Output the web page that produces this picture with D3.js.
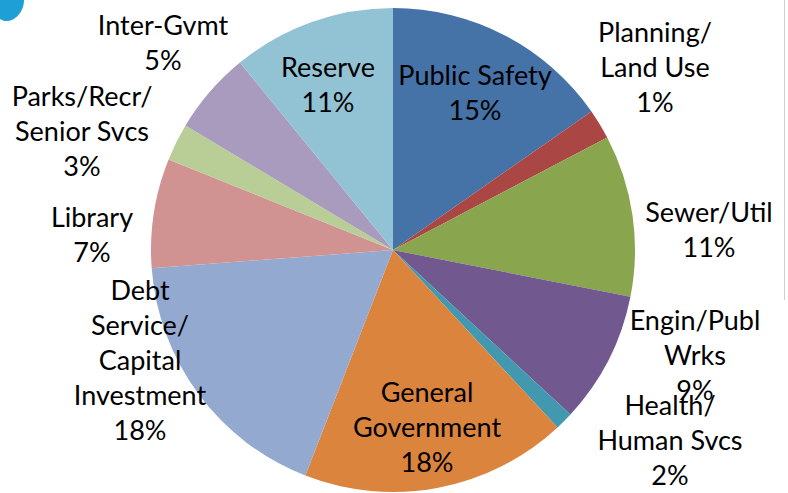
<!doctype html>
<html>
<head>
  <meta charset="utf-8">
  <script src="https://cdnjs.cloudflare.com/ajax/libs/d3/7.8.5/d3.min.js"></script>
  <style>
    body { margin: 0; background: #fff; }
    svg text { font-family: Lato, "Open Sans", sans-serif; fill: #000; }
  </style>
</head>
<body>
  <svg id="chart" width="788" height="493"></svg>
  <script>
    // budget shares (percent), clockwise from 12 o'clock
    var names = ["Public Safety", "Planning/\nLand Use", "Sewer/Util", "Engin/Publ\nWrks",
      "Health/\nHuman Svcs", "General\nGovernment", "Debt\nService/\nCapital\nInvestment",
      "Library", "Parks/Recr/\nSenior Svcs", "Inter-Gvmt", "Reserve"];
    var shares = [15.3, 2.0, 10.8, 8.8, 1.2, 17.8, 17.9, 7.3, 2.5, 5.5, 10.9];
    var pctLabels = ["15%", "1%", "11%", "9%", "2%", "18%", "18%", "7%", "3%", "5%", "11%"];

    var colors = ["#4572A7", "#AA4643", "#89A54E", "#71588F", "#4198AF", "#DB843D",
      "#93A9CF", "#D19392", "#B9CD96", "#A99BBD", "#92C3D4"];

    // where each label block sits (centre x, first baseline y)
    var labelAt = [[475, 85], [655, 42], [709, 222], [695, 330], [670, 415], [427, 402],
      [140, 300], [92, 227], [82, 106], [163, 35], [328, 77]];

    var cx = 393, cy = 250, radius = 242, lineH = 35;

    var svg = d3.select("#chart");

    // little blue corner shape
    svg.append("path")
      .attr("d", "M0,0 L24,0 C24,8 20,16 12,20 C7,22 3,21 0,19 Z")
      .style("fill", "#1E9FD6");

    // thin frame line at the right
    svg.append("line")
      .attr("x1", 784.5).attr("x2", 784.5)
      .attr("y1", 0).attr("y2", 300)
      .style("stroke", "#d0d0d0")
      .style("stroke-width", 1);

    var pie = d3.pie().sort(null).value(d => d);
    var arc = d3.arc().innerRadius(0).outerRadius(radius);

    var g = svg.append("g").attr("transform", "translate(" + cx + "," + cy + ")");
    g.selectAll("path")
      .data(pie(shares))
      .enter()
      .append("path")
      .attr("d", arc)
      .style("fill", (d, i) => colors[i]);

    var labels = svg.selectAll("text.lbl")
      .data(names)
      .enter()
      .append("text")
      .attr("class", "lbl")
      .attr("text-anchor", "middle")
      .style("font-size", "27px");

    labels.each(function (d, i) {
      var lines = d.split("\n").concat([pctLabels[i]]);
      d3.select(this).selectAll("tspan")
        .data(lines)
        .enter()
        .append("tspan")
        .attr("x", labelAt[i][0])
        .attr("y", (t, j) => labelAt[i][1] + j * lineH)
        .text(t => t);
    });
  </script>
</body>
</html>
